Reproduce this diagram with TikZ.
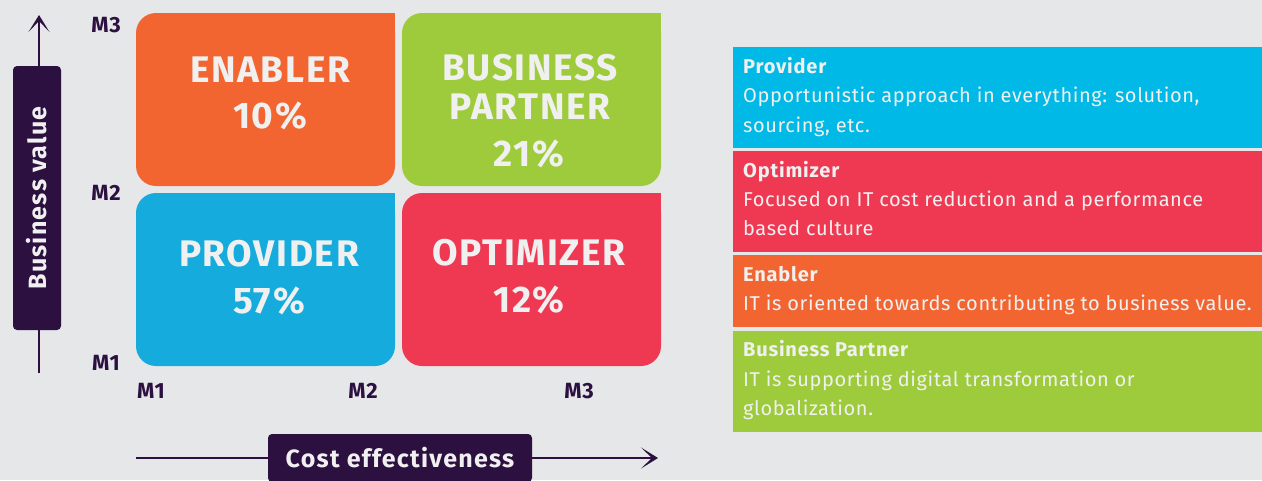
\documentclass[tikz,border=0pt]{standalone}
\usepackage{fontspec}
\setmainfont{Fira Sans}
\newfontfamily\quadfont[LetterSpace=4.5]{Fira Sans}
\newfontfamily\axfont[LetterSpace=5]{Fira Sans}
\newfontfamily\mfont[LetterSpace=3]{Fira Sans}
\newfontfamily\legtfont[LetterSpace=4]{Fira Sans}
\newfontfamily\leglfont[LetterSpace=3]{Fira Sans}
\usetikzlibrary{arrows.meta}
\definecolor{bgc}{HTML}{E6E7E9}
\definecolor{dark}{HTML}{2C1040}
\definecolor{qorange}{HTML}{F26531}
\definecolor{qgreen}{HTML}{9ECB3C}
\definecolor{qblue}{HTML}{15ABDC}
\definecolor{qred}{HTML}{EF3952}
\definecolor{lblue}{HTML}{00B9E6}
\definecolor{ltext}{HTML}{F0F0F0}
\tikzset{
  quad/.style={rounded corners=20pt, minimum width=259pt, minimum height=173pt, inner sep=0pt, outer sep=0pt},
  qlabel/.style={anchor=base, text=ltext, font=\quadfont\fontsize{37}{40}\selectfont\bfseries, inner sep=0pt},
  mlabel/.style={anchor=base, text=dark, font=\mfont\fontsize{22}{24}\selectfont\bfseries, inner sep=0pt},
  legbox/.style={anchor=north west, minimum width=529pt, inner sep=0pt, outer sep=0pt},
  legtitle/.style={anchor=base west, text=ltext, font=\legtfont\fontsize{20}{24}\selectfont\bfseries, inner sep=0pt},
  legline/.style={anchor=base west, text=ltext, font=\leglfont\fontsize{20}{24}\selectfont, inner sep=0pt},
  axisline/.style={draw=dark, line width=2pt, -{Stealth[length=17pt,width=21pt,inset=11pt]}},
  axisbox/.style={fill=dark, rounded corners=4pt, text=ltext, font=\axfont\fontsize{25}{28}\selectfont\bfseries, inner sep=0pt, minimum width=264pt, minimum height=48pt},
}
\begin{document}
\begin{tikzpicture}[x=1pt,y=-1pt]
\fill[bgc] (0,0) rectangle (1262,480);
\useasboundingbox (0,0) rectangle (1262,480);

% quadrants
\node[quad, fill=qorange] (enb) at (265.5,99.5) {};
\fill[qorange] (enb.north east) rectangle ++(-30,30);
\node[quad, fill=qgreen] (bpq) at (531.5,99.5) {};
\fill[qgreen] (bpq.north east) rectangle ++(-30,30);
\node[quad, fill=qblue] (prq) at (265.5,279.5) {};
\fill[qblue] (prq.north east) rectangle ++(-30,30);
\node[quad, fill=qred] (opq) at (531.5,279.5) {};
\fill[qred] (opq.north east) rectangle ++(-30,30);

\node[qlabel] (enbA) at (270,82) {ENABLER};
\node[qlabel] (enbB) at (270,128) {10\%};
\node[qlabel] (bpA) at (530,80) {BUSINESS};
\node[qlabel] (bpB) at (530,119) {PARTNER};
\node[qlabel] (bpC) at (529,166) {21\%};
\node[qlabel] (prA) at (269,266) {PROVIDER};
\node[qlabel] (prB) at (269,313) {57\%};
\node[qlabel] (opA) at (529,265) {OPTIMIZER};
\node[qlabel] (opB) at (529,312) {12\%};

% scale labels
\node[mlabel] (ym3) at (106,32) {M3};
\node[mlabel] (ym2) at (106,200) {M2};
\node[mlabel] (ym1) at (106,370) {M1};
\node[mlabel] (xm1) at (151,398) {M1};
\node[mlabel] (xm2) at (363,398) {M2};
\node[mlabel] (xm3) at (579,398) {M3};

% axes
\coordinate (ybot) at (39,373);
\coordinate (ytop) at (39,15);
\draw[axisline] (ybot) -- (ytop);
\node[axisbox, rotate=90] (ybox) at (37,198) {Business value};
\coordinate (xl) at (136,458);
\coordinate (xr) at (658,458);
\draw[axisline] (xl) -- (xr);
\node[axisbox] (xbox) at (400,458) {Cost effectiveness};

% legend
\node[legbox, fill=lblue, minimum height=101pt] (lprov) at (733,47) {};
\node[legbox, fill=qred, minimum height=101pt] (lopt) at (733,151) {};
\node[legbox, fill=qorange, minimum height=72pt] (lenb) at (733,255) {};
\node[legbox, fill=qgreen, minimum height=101pt] (lbp) at (733,331) {};

\node[legtitle] (t1) at (743,73) {Provider};
\node[legline] (t1a) at (743,102) {Opportunistic approach in everything: solution,};
\node[legline] (t1b) at (743,132) {sourcing, etc.};
\node[legtitle] (t2) at (743,177) {Optimizer};
\node[legline] (t2a) at (743,206) {Focused on IT cost reduction and a performance};
\node[legline] (t2b) at (743,235) {based culture};
\node[legtitle] (t3) at (743,281) {Enabler};
\node[legline] (t3a) at (743,310) {IT is oriented towards contributing to business value.};
\node[legtitle] (t4) at (743,356) {Business Partner};
\node[legline] (t4a) at (743,386) {IT is supporting digital transformation or};
\node[legline] (t4b) at (743,415) {globalization.};
\end{tikzpicture}
\end{document}
